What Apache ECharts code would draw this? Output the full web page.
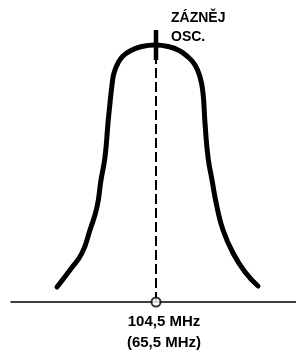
<!DOCTYPE html>
<html>
<head>
<meta charset="utf-8">
<script src="https://cdn.jsdelivr.net/npm/echarts@6/dist/echarts.min.js"></script>
<style>
  html, body { margin: 0; padding: 0; background: #fff; }
  #chart { width: 296px; height: 351px; }
</style>
</head>
<body>
<div id="chart"></div>
<script>
// offset from the beat frequency (arbitrary units) and response height
const curveX = [-99, -86, -74, -66, -59, -55, -51, -48, -46, -44, -42, -38, -33, -26, -16, -1,
                14, 24, 32, 39, 44, 47, 49, 52, 56, 61, 67, 77, 89, 102]
const curveY = [15, 32, 49, 72, 95, 122, 145, 179, 199, 217, 229, 239, 246, 251, 255, 257,
                255, 251, 245, 237, 225, 209, 179, 145, 122, 95, 72, 49, 30, 16]
const oscMark = [242, 272]   // thick marker of the oscillator beat
const centerX = 0
const topLabel = ['ZÁZNĚJ', 'OSC.']
const freqLabels = ['104,5 MHz', '(65,5 MHz)']

const chart = echarts.init(document.getElementById('chart'))

const option = {
    animation: false,
    backgroundColor: '#fff',
    grid: { left: 11, right: 0, top: 0, bottom: 49 },
    xAxis: {
        type: 'value',
        min: -145,
        max: 140,
        axisLine: { show: true, onZero: false, lineStyle: { color: '#000', width: 1.5 } },
        axisTick: { show: false },
        axisLabel: { show: false },
        splitLine: { show: false }
    },
    yAxis: {
        type: 'value',
        min: 0,
        max: 302,
        show: false,
        splitLine: { show: false }
    },
    series: [
        {
            // resonance curve
            type: 'line',
            data: curveX.map((x, i) => [x, curveY[i]]),
            smooth: 0.5,
            showSymbol: false,
            lineStyle: { color: '#000', width: 5, cap: 'round', join: 'round' }
        },
        {
            // dashed centre line
            type: 'line',
            data: [[centerX, 0], [centerX, oscMark[0]]],
            showSymbol: false,
            lineStyle: { color: '#000', width: 2, type: [10, 4] }
        },
        {
            // oscillator marker
            type: 'line',
            data: [[centerX, oscMark[0]], [centerX, oscMark[1]]],
            showSymbol: false,
            lineStyle: { color: '#000', width: 4.5 }
        },
        {
            type: 'scatter',
            data: [[centerX, 0]],
            symbol: 'circle',
            symbolSize: 9,
            itemStyle: { color: '#fff', borderColor: '#000', borderWidth: 2 },
            z: 5
        }
    ],
    graphic: [
        {
            type: 'text', left: 171, top: 11,
            style: { text: topLabel[0], font: 'bold 14px "Liberation Sans"', fill: '#000' }
        },
        {
            type: 'text', left: 171, top: 30,
            style: { text: topLabel[1], font: 'bold 14px "Liberation Sans"', fill: '#000' }
        },
        {
            type: 'text', x: 164, y: 314,
            style: { text: freqLabels[0], font: 'bold 15px "Liberation Sans"', fill: '#000', align: 'center' }
        },
        {
            type: 'text', x: 164, y: 335,
            style: { text: freqLabels[1], font: 'bold 15px "Liberation Sans"', fill: '#000', align: 'center' }
        }
    ]
}

chart.setOption(option)
</script>
</body>
</html>
